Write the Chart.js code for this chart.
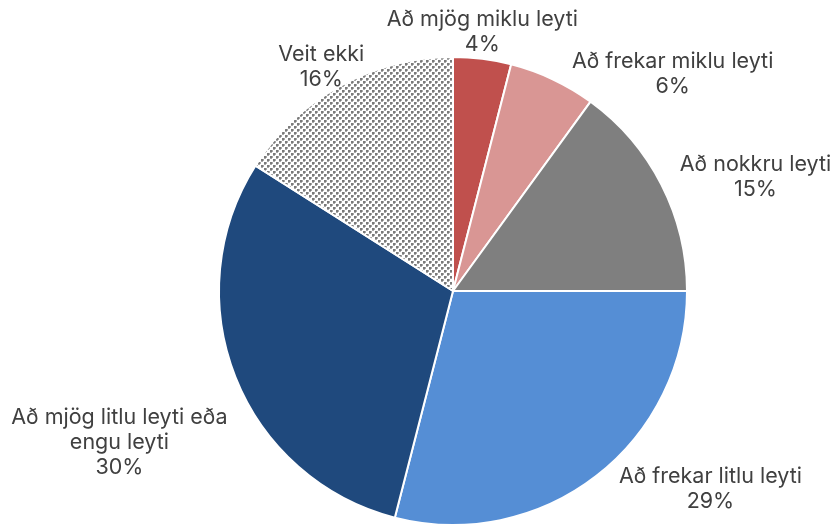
<!DOCTYPE html>
<html>
<head>
<meta charset="utf-8">
<script src="https://cdn.jsdelivr.net/npm/chart.js@4/dist/chart.umd.min.js"></script>
<style>
  html, body { margin: 0; padding: 0; background: #fff; }
  #wrap { width: 833px; height: 527px; }
</style>
</head>
<body>
<div id="wrap"><canvas id="pie_chart"></canvas></div>
<script>
const categories = [
    ["Að mjög miklu leyti"],
    ["Að frekar miklu leyti"],
    ["Að nokkru leyti"],
    ["Að frekar litlu leyti"],
    ["Að mjög litlu leyti eða", "engu leyti"],
    ["Veit ekki"]
];
const shares = [4, 6, 15, 29, 30, 16];

// small checker fill for "Veit ekki"
function checker() {
    const c = document.createElement("canvas");
    c.width = 6; c.height = 6;
    const g = c.getContext("2d");
    g.fillStyle = "#fff";
    g.fillRect(0, 0, 6, 6);
    g.fillStyle = "#7a7a7a";
    g.fillRect(0, 0, 2, 2);
    g.fillRect(3, 3, 2, 2);
    g.fillStyle = "#a8a8a8";
    g.fillRect(2, 0, 1, 2);
    g.fillRect(0, 2, 2, 1);
    g.fillRect(5, 3, 1, 2);
    g.fillRect(3, 5, 2, 1);
    return g.createPattern(c, "repeat");
}

const colors = ["#c0504d", "#d99694", "#7f7f7f", "#558ed5", "#1f497d", checker()];

// label nudges from the slice's outer mid point (Excel best fit look)
const labelShift = [[0, -27], [120, -5], [94, -8], [114, 13], [-116, 65], [-19, -19]];

const outsideLabels = {
    id: "outsideLabels",
    afterDatasetsDraw(chart) {
        const ctx = chart.ctx;
        const meta = chart.getDatasetMeta(0);
        ctx.save();
        ctx.font = "21.5px Inter, sans-serif";
        ctx.fillStyle = "#404040";
        ctx.textAlign = "center";
        ctx.textBaseline = "middle";
        meta.data.forEach((arc, i) => {
            const mid = (arc.startAngle + arc.endAngle) / 2;
            const ax = arc.x + Math.cos(mid) * arc.outerRadius;
            const ay = arc.y + Math.sin(mid) * arc.outerRadius;
            const lines = categories[i].concat([shares[i] + "%"]);
            const lh = 25;
            const cx = ax + labelShift[i][0];
            const cy = ay + labelShift[i][1];
            const top = cy - (lines.length - 1) * lh / 2;
            lines.forEach((t, k) => ctx.fillText(t, cx, top + k * lh));
        });
        ctx.restore();
    }
};

new Chart(document.getElementById("pie_chart"), {
    type: "pie",
    data: {
        labels: categories.map(c => c.join(" ")),
        datasets: [{
            data: shares,
            backgroundColor: colors,
            borderColor: "#fff",
            borderWidth: 2
        }]
    },
    options: {
        responsive: true,
        maintainAspectRatio: false,
        animation: false,
        layout: { padding: { left: 218, right: 145, top: 56, bottom: 1 } },
        plugins: {
            legend: { display: false },
            tooltip: { enabled: false }
        }
    },
    plugins: [outsideLabels]
});
</script>
</body>
</html>
